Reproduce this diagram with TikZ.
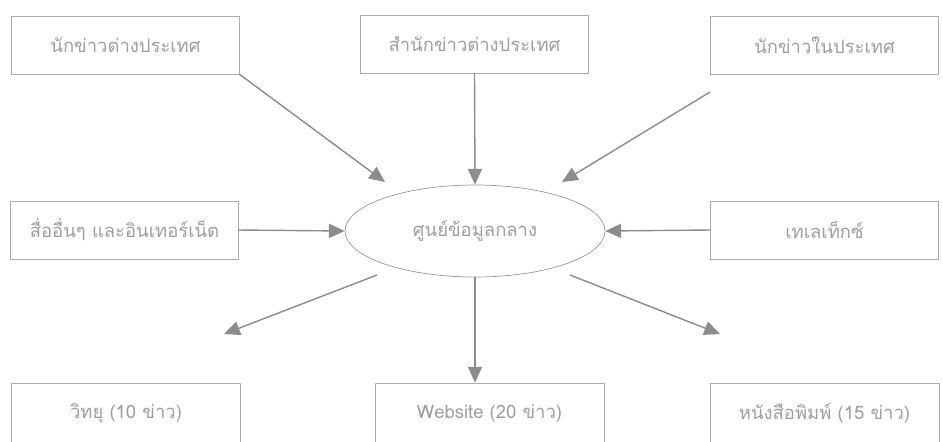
\documentclass[tikz,border=0pt]{standalone}
\usepackage{fontspec}
\newfontfamily\thaifont[Script=Thai]{Loma}
\usepackage{tikz}
\usetikzlibrary{arrows.meta,shapes.geometric}
\tikzset{
  srcbox/.style={draw=gray!65,thin,minimum width=4.55cm,minimum height=1.16cm,inner sep=2pt},
  outbox/.style={draw=gray!65,thin,minimum width=4.58cm,minimum height=1.2cm,inner sep=2pt},
  hub/.style={ellipse,draw=gray!80,thin,minimum width=5.2cm,minimum height=1.84cm},
  edge/.style={-{Triangle[length=9pt,width=8pt]},draw=gray!90,thick},
  every node/.style={font=\thaifont\fontsize{10.5}{13}\selectfont,text=gray!75}
}
\begin{document}
\begin{tikzpicture}[x=0.02cm,y=-0.02cm]
\useasboundingbox (0,0) rectangle (943,441);
% sources
\node[srcbox] (fornews) at (125.5,45) {นักข่าวต่างประเทศ};
\node[srcbox] (agency) at (474.5,44) {สำนักข่าวต่างประเทศ};
\node[srcbox] (domnews) at (824.5,45) {นักข่าวในประเทศ};
\node[srcbox] (othmedia) at (124.5,230) {สื่ออื่นๆ และอินเทอร์เน็ต};
\node[srcbox] (telex) at (824.5,230) {เทเลเท็กซ์};
% centre
\node[hub] (center) at (475,231) {ศูนย์ข้อมูลกลาง};
% outputs
\node[outbox] (radio) at (126,413) {วิทยุ (10 ข่าว)};
\node[outbox] (web) at (489.5,413) {Website (20 ข่าว)};
\node[outbox] (paper) at (824.5,413) {หนังสือพิมพ์ (15 ข่าว)};
% free arrow ends
\coordinate (inA) at (385,182);
\coordinate (srcC) at (710,92);
\coordinate (inC) at (562,182);
\coordinate (outA) at (377,275);
\coordinate (tipA) at (224,334);
\coordinate (outC) at (570,275);
\coordinate (tipC) at (720,334);
% inputs
\draw[edge] (fornews.south east) -- (inA);
\draw[edge] (agency.south) -- (center.north);
\draw[edge] (srcC) -- (inC);
\draw[edge] (othmedia.east) -- (center.west);
\draw[edge] (telex.west) -- (center.east);
% outputs
\draw[edge] (outA) -- (tipA);
\draw[edge] (center.south) -- (center.south |- web.north);
\draw[edge] (outC) -- (tipC);
\end{tikzpicture}
\end{document}
